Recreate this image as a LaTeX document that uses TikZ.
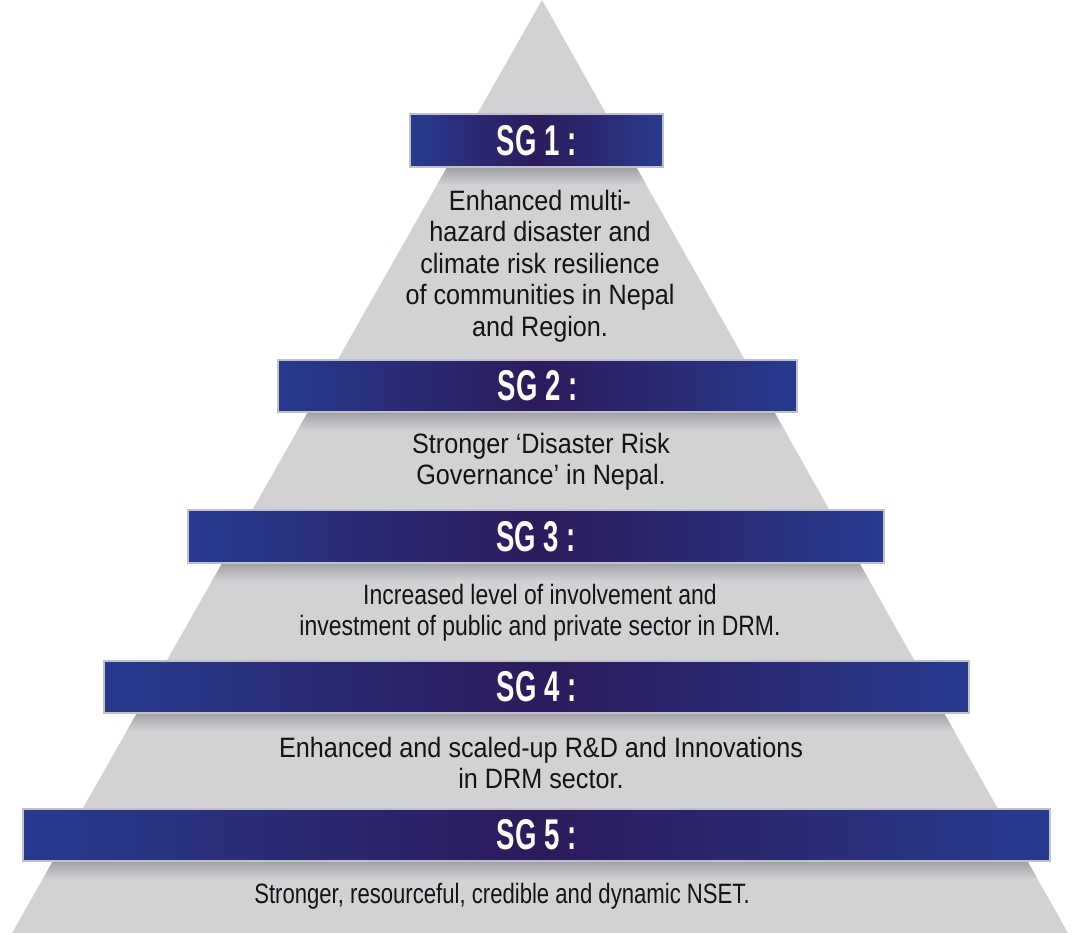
\documentclass[tikz,border=0pt]{standalone}
\usepackage{fontspec}
\newfontfamily\bodyfont[FakeStretch=0.9]{Liberation Sans}
\newfontfamily\bodyfontm[FakeStretch=0.82]{Liberation Sans}
\newfontfamily\bodyfontn[FakeStretch=0.79]{Liberation Sans}
\newfontfamily\sgfont[FakeStretch=0.64]{Liberation Sans}
\definecolor{trigray}{RGB}{209,210,212}
\definecolor{blueL}{RGB}{40,58,142}
\definecolor{blueD}{RGB}{44,27,92}
\definecolor{bordc}{RGB}{192,192,200}
\definecolor{shadowc}{RGB}{160,160,164}
\definecolor{txt}{RGB}{20,20,20}
\tikzset{
  band/.style={draw=bordc, line width=1.5bp, left color=blueL, right color=blueL, middle color=blueD,
    text=white, font=\sgfont\bfseries\fontsize{43bp}{43bp}\selectfont, inner sep=0pt},
  body/.style={align=center, text=txt, font=\bodyfont\fontsize{28bp}{31.5bp}\selectfont, inner sep=0pt},
}
\begin{document}
\begin{tikzpicture}[x=1bp,y=-1bp]
\useasboundingbox (0,0) rectangle (1075,933);
\fill[trigray] (542,0) -- (1068,933) -- (12,933) -- cycle;
\begin{scope}
  \clip (542,0) -- (1068,933) -- (12,933) -- cycle;
  \foreach \b in {167,412,563,713,861}{
    \shade[top color=shadowc, bottom color=trigray] (0,\b) rectangle (1075,\b+18);
  }
\end{scope}
\node[band, minimum width=253bp, minimum height=53bp] (sg1) at (536.5,140.5) {SG 1 :};
\node[band, minimum width=519bp, minimum height=52bp] (sg2) at (537.5,386) {SG 2 :};
\node[band, minimum width=696bp, minimum height=53bp] (sg3) at (536,536.5) {SG 3 :};
\node[band, minimum width=865bp, minimum height=52bp] (sg4) at (536.5,687) {SG 4 :};
\node[band, minimum width=1027bp, minimum height=52bp] (sg5) at (536.5,835) {SG 5 :};
\node[body] (t1) at (540,266) {Enhanced multi-\\hazard disaster and\\climate risk resilience\\of communities in Nepal\\and Region.};
\node[body] (t2) at (541,462) {Stronger ‘Disaster Risk\\Governance’ in Nepal.};
\node[body, font=\bodyfontm\fontsize{28bp}{31.5bp}\selectfont] (t3) at (540,613) {Increased level of involvement and\\investment of public and private sector in DRM.};
\node[body] (t4) at (541,763) {Enhanced and scaled-up R\&D and Innovations\\in DRM sector.};
\node[body, font=\bodyfontn\fontsize{28bp}{31.5bp}\selectfont] (t5) at (502,896) {Stronger, resourceful, credible and dynamic NSET.};
\end{tikzpicture}
\end{document}
